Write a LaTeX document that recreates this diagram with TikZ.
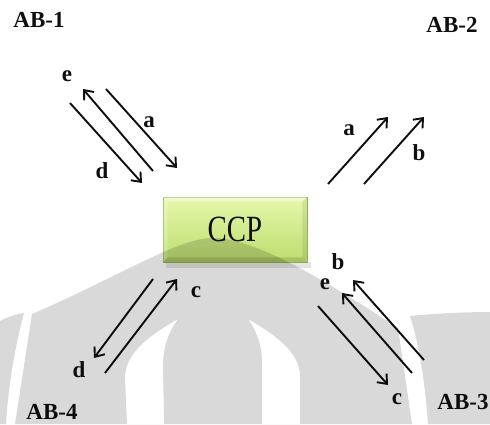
\documentclass[tikz,border=0pt]{standalone}
\usepackage{fontspec}
\usepackage{graphicx}
\setmainfont{Liberation Serif}
\usetikzlibrary{arrows.meta}
\definecolor{boxtop}{RGB}{230,248,172}
\definecolor{boxbot}{RGB}{188,221,110}
\definecolor{boxline}{RGB}{150,184,78}
\definecolor{ink}{RGB}{15,15,15}
\begin{document}
\begin{tikzpicture}[x=1pt,y=-1pt,
  conn/.style={line width=1.9pt, draw=ink, -{Straight Barb[length=8pt,width=13pt,line width=1.9pt]}},
  lbl/.style={font=\fontsize{23}{23}\selectfont\bfseries, inner sep=0pt, text=ink},
  ablbl/.style={font=\fontsize{23}{23}\selectfont\bfseries, inner sep=0pt, text=ink},
  ccpbox/.style={minimum width=144pt, minimum height=65pt, inner sep=0pt,
    top color=boxtop, bottom color=boxbot, draw=boxline, line width=0.6pt,
    font=\fontsize{37}{37}\selectfont, text=ink}
]
\useasboundingbox (0,0) rectangle (490,424);
\fill[white] (0,0) rectangle (490,424);

% shadow under box
\fill[black,opacity=0.10] (166,262) rectangle (311,268);

% CCP box
\node[ccpbox] (ccp) at (235,229.5) {\scalebox{0.78}[1]{CCP}};
\fill[white,opacity=0.40] (ccp.north west) -- (ccp.north east) -- ([shift={(-5,5)}]ccp.north east) -- ([shift={(5,5)}]ccp.north west) -- cycle;
\fill[white,opacity=0.22] (ccp.north west) -- ([shift={(5,5)}]ccp.north west) -- ([shift={(5,-5)}]ccp.south west) -- (ccp.south west) -- cycle;
\fill[black,opacity=0.08] (ccp.north east) -- ([shift={(-5,5)}]ccp.north east) -- ([shift={(-5,-5)}]ccp.south east) -- (ccp.south east) -- cycle;
\fill[black,opacity=0.12] (ccp.south west) -- ([shift={(5,-5)}]ccp.south west) -- ([shift={(-5,-5)}]ccp.south east) -- (ccp.south east) -- cycle;

% group labels
\node[ablbl] (ab1) at (39,20) {AB-1};
\node[ablbl] (ab2) at (452,25) {AB-2};
\node[ablbl] (ab3) at (463,402) {AB-3};
\node[ablbl] (ab4) at (52,412) {AB-4};

% endpoints
\coordinate (a1s) at (106,89);  \coordinate (a1e) at (177,168);
\coordinate (e1s) at (153,171); \coordinate (e1e) at (83,89);
\coordinate (d1s) at (70,103);  \coordinate (d1e) at (142,183);
\coordinate (a2s) at (328,184); \coordinate (a2e) at (388,117);
\coordinate (b2s) at (364,184); \coordinate (b2e) at (424,117);
\coordinate (d4s) at (153,279); \coordinate (d4e) at (94,358);
\coordinate (c4s) at (105,373); \coordinate (c4e) at (177,279);
\coordinate (c3s) at (318,306); \coordinate (c3e) at (388,385);
\coordinate (e3s) at (412,373); \coordinate (e3e) at (342,293);
\coordinate (b3s) at (424,360); \coordinate (b3e) at (353,280);

\draw[conn] (a1s) -- (a1e);
\draw[conn] (e1s) -- (e1e);
\draw[conn] (d1s) -- (d1e);
\draw[conn] (a2s) -- (a2e);
\draw[conn] (b2s) -- (b2e);
\draw[conn] (d4s) -- (d4e);
\draw[conn] (c4s) -- (c4e);
\draw[conn] (c3s) -- (c3e);
\draw[conn] (e3s) -- (e3e);
\draw[conn] (b3s) -- (b3e);

% arrow labels
\node[lbl] (la1) at (149,122) {a};
\node[lbl] (le1) at (67,76) {e};
\node[lbl] (ld1) at (102,171) {d};
\node[lbl] (la2) at (349,130) {a};
\node[lbl] (lb2) at (419,153) {b};
\node[lbl] (lc4) at (196,292) {c};
\node[lbl] (ld4) at (79,370) {d};
\node[lbl] (lb3) at (338,262) {b};
\node[lbl] (le3) at (325,284) {e};
\node[lbl] (lc3) at (397,399) {c};

% watermark (multiplies everything beneath by 0.85)
\fill[black,fill opacity=0.15,even odd rule]
  % main arch
  (15,424) -- (32,314) .. controls (120,276) and (178,238) .. (213,238)
  .. controls (255,238) and (325,280) .. (398,328) -- (412,424) -- cycle
  % left horn (hole)
  (178,319) .. controls (152,334) and (125,352) .. (125,378) -- (127,424) -- (164,424)
  -- (163,365) .. controls (163,345) and (170,330) .. (178,319) -- cycle
  % right horn (hole)
  (248,319) .. controls (274,334) and (300,352) .. (300,376) -- (300,424) -- (262,424)
  -- (262,362) .. controls (262,345) and (256,330) .. (248,319) -- cycle
  % left crescent
  (0,321) .. controls (8,317) and (16,314) .. (24,313)
  .. controls (14,350) and (8,390) .. (6,424) -- (0,424) -- cycle
  % right crescent
  (410,316) .. controls (440,313) and (470,312) .. (490,312) -- (490,424) -- (428,424)
  .. controls (425,380) and (418,340) .. (410,316) -- cycle;
\end{tikzpicture}
\end{document}
